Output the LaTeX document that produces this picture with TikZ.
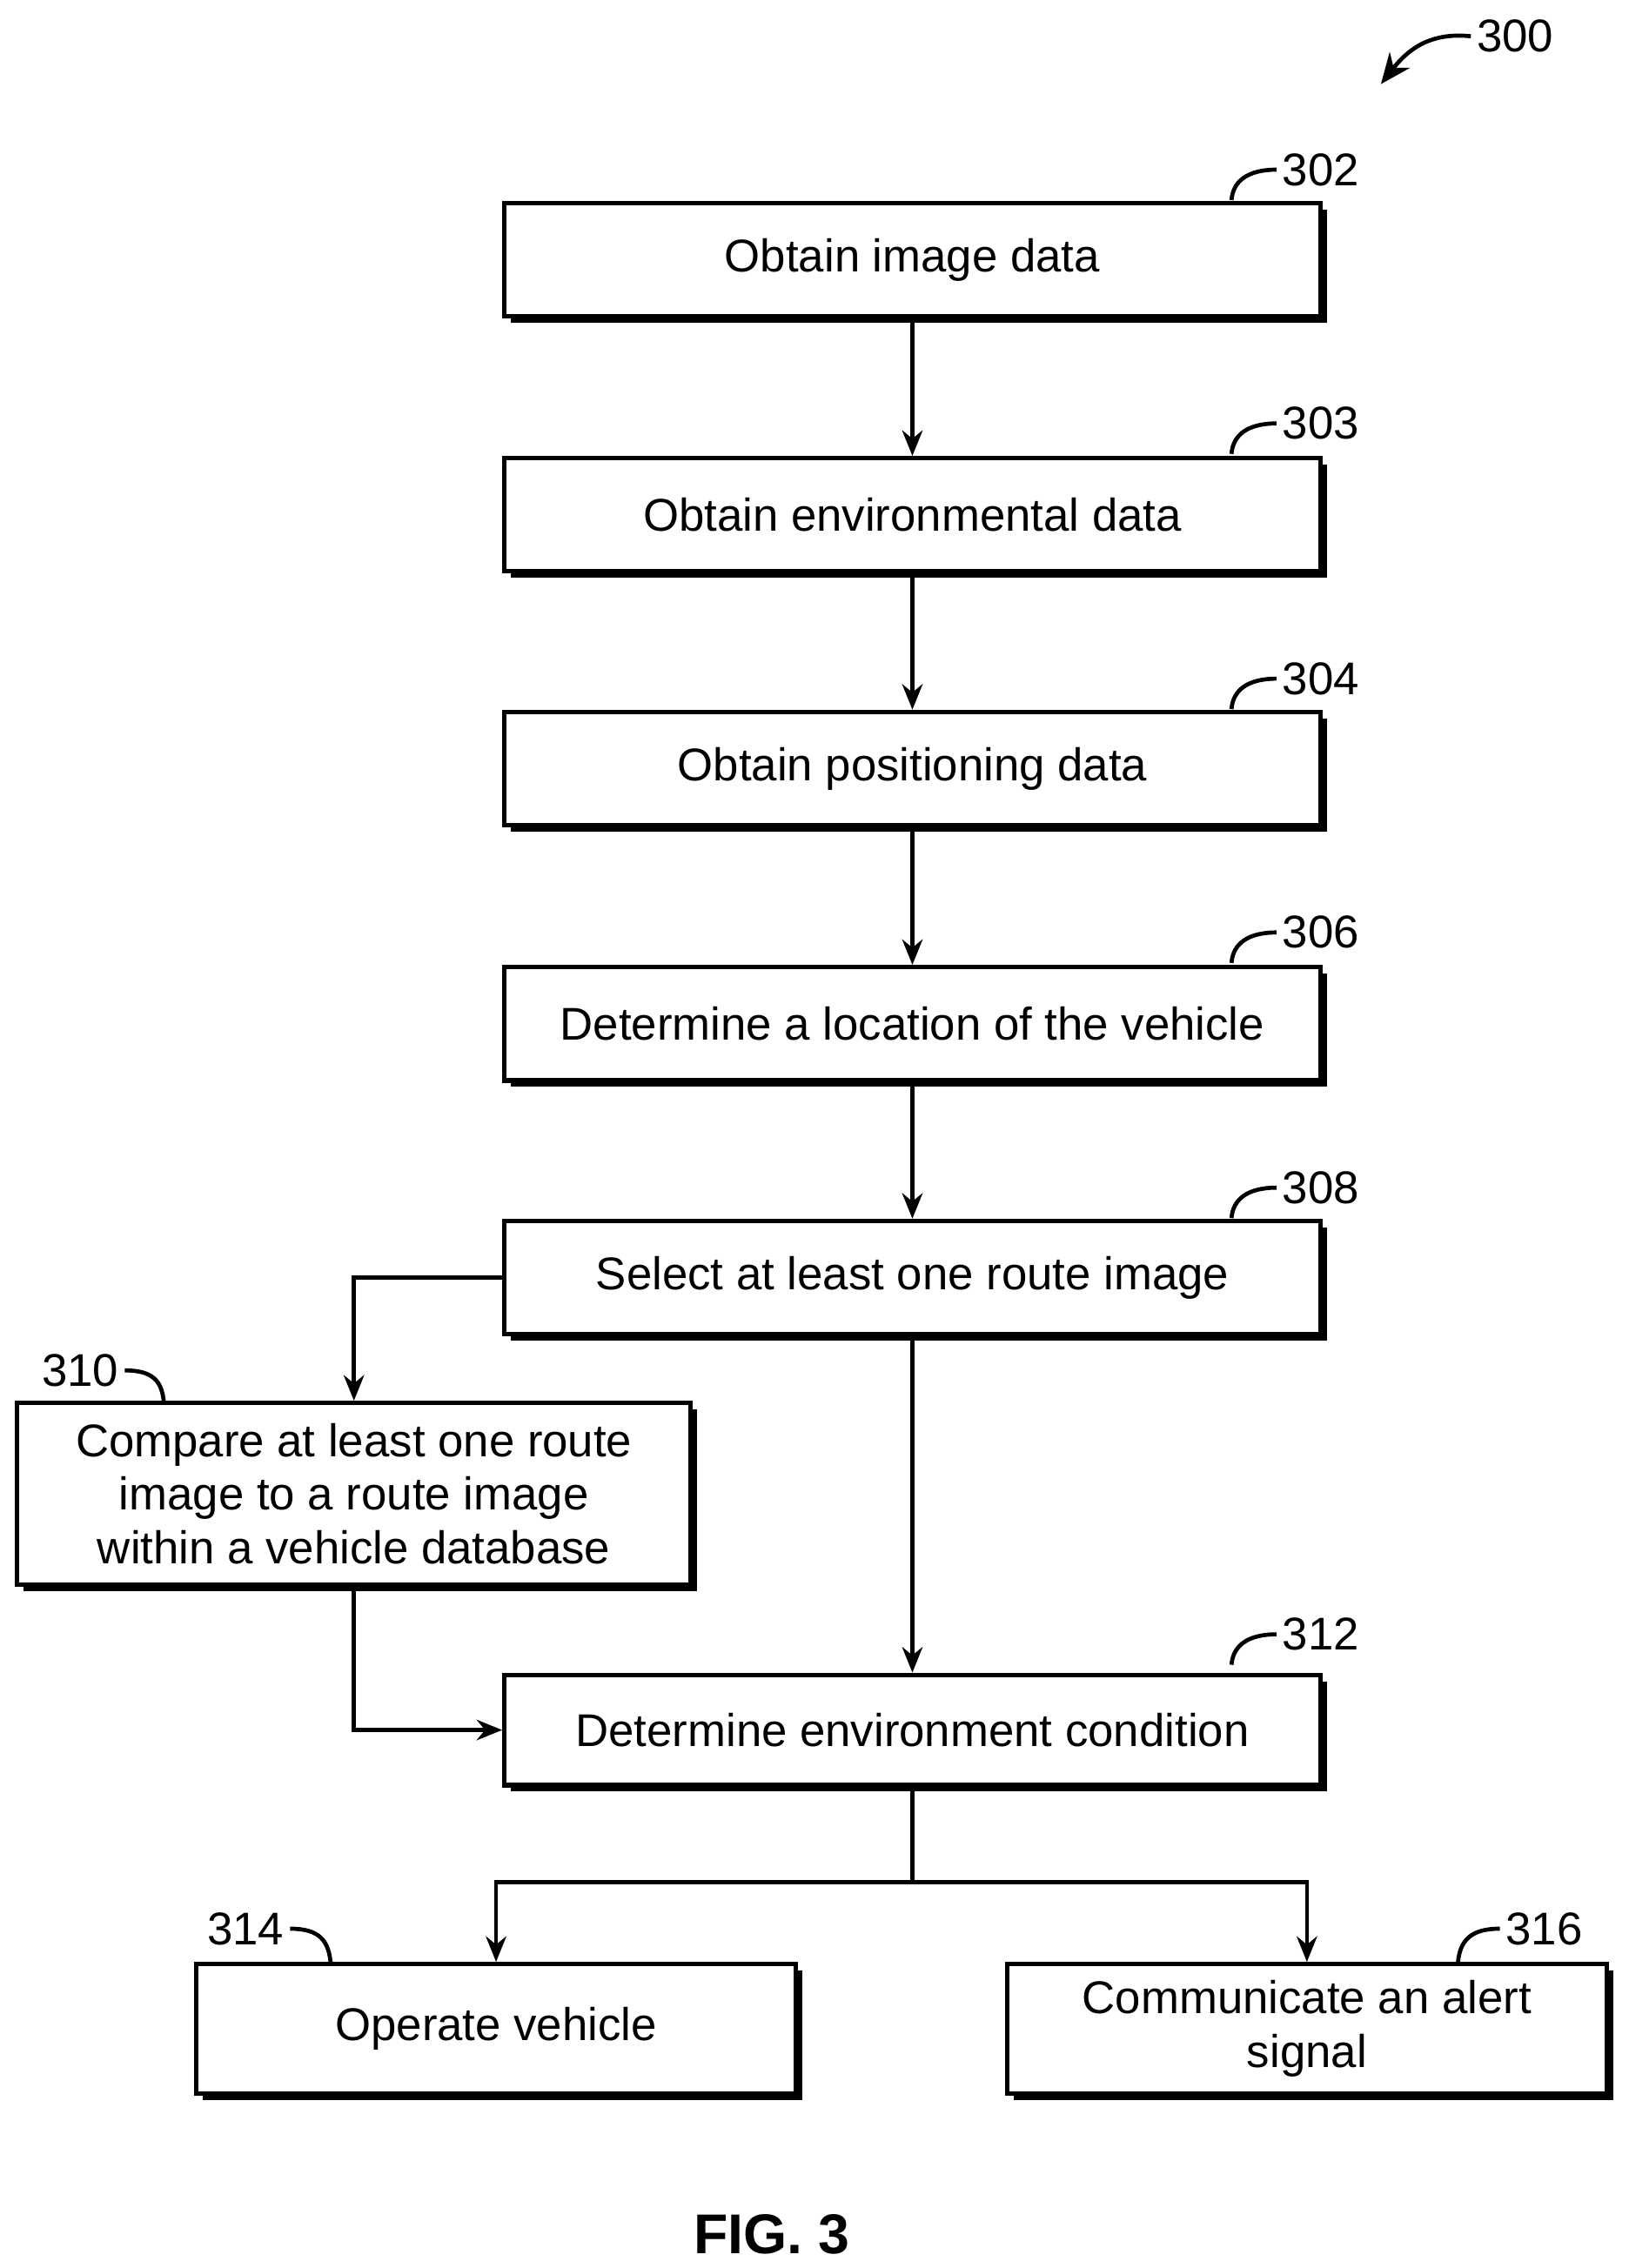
\documentclass[tikz,border=0pt]{standalone}
\usepackage{fontspec}
\setmainfont{Liberation Sans}
\usetikzlibrary{shadows,arrows.meta}
\begin{document}
\begin{tikzpicture}[x=0.01cm,y=-0.01cm,
    stepbox/.style={draw,fill=white,line width=0.9pt,align=center,inner sep=1pt,
      font=\fontsize{9}{10.5}\selectfont,
      drop shadow={shadow xshift=0.045cm,shadow yshift=-0.045cm,fill=black,opacity=1}},
    numlbl/.style={font=\fontsize{9}{10}\selectfont,inner sep=1pt},
    arr/.style={-{Stealth[length=5pt,width=4pt]},line width=0.8pt},
    lead/.style={line width=0.8pt}]
  \useasboundingbox (0,0) rectangle (1123,1564);
  % boxes
  \node[stepbox,minimum width=5.62cm,minimum height=0.78cm] (b302) at (629,179) {Obtain image data};
  \node[stepbox,minimum width=5.62cm,minimum height=0.78cm] (b303) at (629,355) {Obtain environmental data};
  \node[stepbox,minimum width=5.62cm,minimum height=0.78cm] (b304) at (629,530) {Obtain positioning data};
  \node[stepbox,minimum width=5.62cm,minimum height=0.78cm] (b306) at (629,706) {Determine a location of the vehicle};
  \node[stepbox,minimum width=5.62cm,minimum height=0.78cm] (b308) at (629,881) {Select at least one route image};
  \node[stepbox,minimum width=4.64cm,minimum height=1.25cm] (b310) at (244,1030) {Compare at least one route\\image to a route image\\within a vehicle database};
  \node[stepbox,minimum width=5.62cm,minimum height=0.76cm] (b312) at (629,1193) {Determine environment condition};
  \node[stepbox,minimum width=4.13cm,minimum height=0.89cm] (b314) at (342,1399) {Operate vehicle};
  \node[stepbox,minimum width=4.13cm,minimum height=0.89cm] (b316) at (901,1399) {Communicate an alert\\signal};
  % connectors
  \draw[arr] (b302.south) -- (b303.north);
  \draw[arr] (b303.south) -- (b304.north);
  \draw[arr] (b304.south) -- (b306.north);
  \draw[arr] (b306.south) -- (b308.north);
  \draw[arr] (b308.west) -| (b310.north);
  \draw[arr] (b308.south) -- (b312.north);
  \draw[arr] (b310.south) |- (b312.west);
  \coordinate (split) at (629,1298);
  \draw[lead] (b312.south) -- (split);
  \draw[arr] (split) -| (b314.north);
  \draw[arr] (split) -| (b316.north);
  % reference numerals
  \node[numlbl,anchor=west] (n300) at (1014,25) {300};
  \draw[-{Stealth[length=6pt,width=5pt]},line width=0.8pt] (n300.west) .. controls (985,22) and (970,35) .. (952,58);
  \foreach \n/\y in {302/117,303/292,304/468,306/643,308/819,312/1127}
  {
    \node[numlbl,anchor=west] (n\n) at (880,\y) {\n};
    \draw[lead] (n\n.west) .. controls (860,\y) and (850,\y+8) .. (849,\y+21);
  }
  \node[numlbl,anchor=east] (n310) at (86,945) {310};
  \draw[lead] (n310.east) .. controls (105,945) and (112,952) .. (113,968);
  \node[numlbl,anchor=east] (n314) at (200,1330) {314};
  \draw[lead] (n314.east) .. controls (220,1330) and (227,1338) .. (228,1355);
  \node[numlbl,anchor=west] (n316) at (1034,1330) {316};
  \draw[lead] (n316.west) .. controls (1014,1330) and (1006,1338) .. (1005,1355);
  \node[font=\bfseries\fontsize{11}{12}\selectfont] (fig) at (532,1541) {FIG. 3};
\end{tikzpicture}
\end{document}
